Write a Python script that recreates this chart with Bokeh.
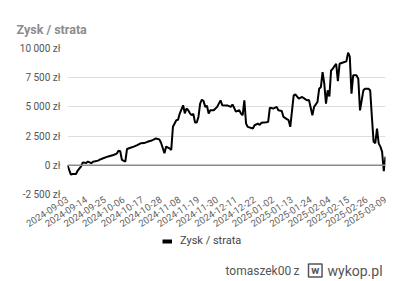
import pandas as pd
from bokeh.plotting import figure
from bokeh.layouts import column
from bokeh.models import (FixedTicker, DatetimeTickFormatter, Span, Legend,
                          LegendItem, Range1d, Label)
from bokeh.embed import file_html
from bokeh.resources import INLINE

# ---- data ----
dates = [
    "2024-09-03", "2024-09-05", "2024-09-06", "2024-09-08", "2024-09-09", "2024-09-11",
    "2024-09-12", "2024-09-14", "2024-09-15", "2024-09-17", "2024-09-18", "2024-09-21",
    "2024-09-22", "2024-09-24", "2024-09-27", "2024-09-28", "2024-09-30", "2024-10-02",
    "2024-10-03", "2024-10-04", "2024-10-05", "2024-10-07", "2024-10-08", "2024-10-10",
    "2024-10-12", "2024-10-14", "2024-10-16", "2024-10-18", "2024-10-20", "2024-10-22",
    "2024-10-23", "2024-10-25", "2024-10-27", "2024-10-28", "2024-10-30", "2024-10-31",
    "2024-11-02", "2024-11-03", "2024-11-04", "2024-11-06", "2024-11-07", "2024-11-08",
    "2024-11-10", "2024-11-11", "2024-11-12", "2024-11-13", "2024-11-14", "2024-11-15",
    "2024-11-16", "2024-11-17", "2024-11-18", "2024-11-19", "2024-11-20", "2024-11-21",
    "2024-11-22", "2024-11-23", "2024-11-24", "2024-11-25", "2024-11-26", "2024-11-28",
    "2024-11-30", "2024-12-02", "2024-12-03", "2024-12-06", "2024-12-08", "2024-12-09",
    "2024-12-10", "2024-12-11", "2024-12-13", "2024-12-14", "2024-12-15", "2024-12-16",
    "2024-12-17", "2024-12-18", "2024-12-21", "2024-12-22", "2024-12-24", "2024-12-25",
    "2024-12-26", "2024-12-29", "2024-12-30", "2024-12-31", "2025-01-02", "2025-01-04",
    "2025-01-05", "2025-01-07", "2025-01-08", "2025-01-10", "2025-01-11", "2025-01-12",
    "2025-01-14", "2025-01-15", "2025-01-17", "2025-01-19", "2025-01-21", "2025-01-22",
    "2025-01-23", "2025-01-25", "2025-01-26", "2025-01-28", "2025-01-29", "2025-01-30",
    "2025-01-31", "2025-02-01", "2025-02-02", "2025-02-03", "2025-02-04", "2025-02-05",
    "2025-02-06", "2025-02-07", "2025-02-08", "2025-02-09", "2025-02-10", "2025-02-12",
    "2025-02-14", "2025-02-15", "2025-02-16", "2025-02-17", "2025-02-18", "2025-02-20",
    "2025-02-21", "2025-02-22", "2025-02-24", "2025-02-25", "2025-02-27", "2025-02-28",
    "2025-03-01", "2025-03-02", "2025-03-03", "2025-03-04", "2025-03-05", "2025-03-06",
    "2025-03-07", "2025-03-08", "2025-03-09",
]
values = [
    0, -800, -750, -750, -450, -100,
    250, 200, 320, 180, 300, 400,
    480, 600, 760, 800, 880, 1000,
    1250, 1200, 460, 320, 1400, 1500,
    1600, 1730, 1880, 1900, 2010, 2100,
    2160, 2300, 2220, 1930, 1030, 1600,
    1450, 1310, 3300, 3860, 3900, 4430,
    5140, 4450, 4860, 4710, 4450, 4290,
    4400, 3660, 3660, 4140, 5280, 5620,
    5500, 5000, 5100, 4430, 4710, 4710,
    5000, 5560, 5150, 5130, 5000, 5200,
    4920, 4600, 4710, 4430, 4290, 5560,
    3570, 3290, 3150, 3430, 3570, 3450,
    3640, 3680, 3720, 4940, 4860, 5000,
    4710, 4650, 4140, 3950, 3860, 3290,
    5990, 6070, 5710, 5850, 5650, 5560,
    5600, 4290, 5000, 5420, 6560, 6700,
    7980, 7000, 5280, 6420, 5900, 8120,
    8260, 8500, 8690, 7200, 8690, 8800,
    8900, 9650, 9300, 6140, 7700, 7700,
    7400, 4700, 6420, 6560, 6560, 6400,
    4140, 2010, 1900, 3150, 1880, 1600,
    1160, -500, 740,
]
x_tick_dates = [
    "2024-09-03", "2024-09-14", "2024-09-25", "2024-10-06", "2024-10-17", "2024-10-28",
    "2024-11-08", "2024-11-19", "2024-11-30", "2024-12-11", "2024-12-22", "2025-01-02",
    "2025-01-13", "2025-01-24", "2025-02-04", "2025-02-15", "2025-02-26", "2025-03-09",
]
y_ticks = [-2500, 0, 2500, 5000, 7500, 10000]
y_tick_labels = ["-2 500 zł", "0 zł", "2 500 zł", "5 000 zł", "7 500 zł", "10 000 zł"]
series_name = "Zysk / strata"
chart_title = "Zysk / strata"
author = "tomaszek00"
joiner = "z"
site_logo = "w"
site = "wykop.pl"

FONT = "Roboto"

x = pd.to_datetime(dates)
tick_ms = [int(t.value // 10**6) for t in pd.to_datetime(x_tick_dates)]

# ---------- main chart ----------
p = figure(width=400, height=234, x_axis_type="datetime",
           output_backend="svg", toolbar_location=None,
           x_range=Range1d(x[0], x[-1]), y_range=Range1d(y_ticks[0], y_ticks[-1]),
           min_border_left=67, min_border_right=15, min_border_top=48,
           min_border_bottom=40, title=chart_title)
p.outline_line_color = None
p.background_fill_color = "white"
p.border_fill_color = "white"

p.title.text_font = FONT
p.title.text_font_size = "12.5px"
p.title.text_font_style = "bold"
p.title.text_color = "#8c8c8c"
p.title.align = "left"
p.title.offset = -51
p.title.standoff = 23

p.yaxis.ticker = FixedTicker(ticks=y_ticks)
p.yaxis.major_label_overrides = {t: l for t, l in zip(y_ticks, y_tick_labels)}
p.yaxis.axis_line_color = None
p.yaxis.major_tick_line_color = None
p.yaxis.minor_tick_line_color = None
p.yaxis.major_tick_out = 0
p.yaxis.major_tick_in = 0
p.yaxis.major_label_standoff = 7
p.yaxis.major_label_text_font = FONT
p.yaxis.major_label_text_font_size = "10px"
p.yaxis.major_label_text_color = "#555555"

p.xaxis.ticker = FixedTicker(ticks=tick_ms)
fmt = "%Y-%m-%d"
p.xaxis.formatter = DatetimeTickFormatter(
    microseconds=fmt, milliseconds=fmt, seconds=fmt, minsec=fmt, minutes=fmt,
    hourmin=fmt, hours=fmt, days=fmt, months=fmt, years=fmt)
p.xaxis.major_label_orientation = 0.57
p.xaxis.axis_line_color = None
p.xaxis.major_tick_line_color = None
p.xaxis.minor_tick_line_color = None
p.xaxis.major_tick_out = 0
p.xaxis.major_tick_in = 0
p.xaxis.major_label_standoff = 4
p.xaxis.major_label_text_font = FONT
p.xaxis.major_label_text_font_size = "9.5px"
p.xaxis.major_label_text_color = "#5f5f5f"

p.xgrid.grid_line_color = None
p.ygrid.grid_line_color = "#dedede"
p.ygrid.grid_line_width = 1
p.add_layout(Span(location=0, dimension="width", line_color="#8a8a8a", line_width=1.5))

r = p.line(x, values, line_color="black", line_width=2)

# ---------- footer: legend + watermark (its frame is aligned with the chart's) ----------
f = figure(width=400, height=47, output_backend="svg", toolbar_location=None,
           x_range=Range1d(0, 1), y_range=Range1d(0, 1),
           x_axis_location=None, y_axis_location=None,
           min_border_left=0, min_border_right=0, min_border_top=0,
           min_border_bottom=0)
f.outline_line_color = None
f.xgrid.visible = False
f.ygrid.visible = False
f.background_fill_color = "white"
f.border_fill_color = "white"

nan = float("nan")
key = f.line([nan], [nan], line_color="black", line_width=4)
legend = Legend(items=[LegendItem(label=series_name, renderers=[key])],
                location=(95, 34), orientation="horizontal",
                glyph_width=10, glyph_height=10, label_height=10,
                label_standoff=8, padding=0, margin=0,
                border_line_color=None, background_fill_alpha=0,
                label_text_font=FONT, label_text_font_size="11px",
                label_text_color="#444444")
f.add_layout(legend, "center")

common = dict(x_units="screen", y_units="screen", y=11, text_font=FONT,
              text_color="#555555", text_baseline="middle")
f.add_layout(Label(x=158, text=author, text_font_size="12px", **common))
f.add_layout(Label(x=226, text=joiner, text_font_size="12px", **common))
f.add_layout(Label(x=241, text="\u00a0" + site_logo + "\u00a0", text_font_size="11px",
                   text_font_style="bold", border_line_color="#555555",
                   border_line_width=1.5, **common))
f.add_layout(Label(x=260, text=site, text_font_size="14px", **common))

layout = column(p, f, spacing=0)
open("out.html", "w").write(file_html(layout, INLINE))
